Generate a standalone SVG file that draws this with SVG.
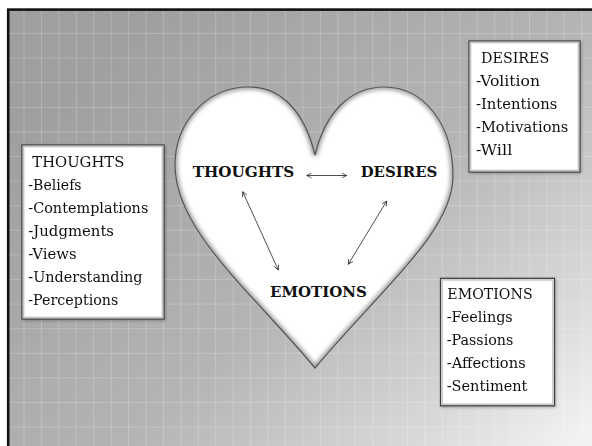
<svg xmlns="http://www.w3.org/2000/svg" width="592" height="446" viewBox="0 0 592 446">
<style>
.t{font-family:"DejaVu Serif","Liberation Serif",serif;font-size:15px;fill:#111}
.b{font-family:"DejaVu Serif","Liberation Serif",serif;font-size:15px;font-weight:bold;fill:#111}
.box{fill:#fff;stroke:#3a3a3a;stroke-width:1.2}
.boxin{fill:none;stroke:#c4c4c4;stroke-width:1.5}
.arr{fill:none;stroke:#222;stroke-width:0.8;marker-start:url(#ah);marker-end:url(#ah)}
</style>
<defs>
<linearGradient id="bg" x1="150" y1="0" x2="570" y2="446" gradientUnits="userSpaceOnUse">
<stop offset="0" stop-color="#9f9f9f"/>
<stop offset="0.5" stop-color="#b4b4b4"/>
<stop offset="0.8" stop-color="#d6d6d6"/>
<stop offset="1" stop-color="#f2f2f2"/>
</linearGradient>
<pattern id="grid" x="23.5" y="33" width="17.43" height="24.6" patternUnits="userSpaceOnUse">
<rect x="0" y="0" width="1" height="24.6" fill="#ffffff" fill-opacity="0.2"/>
<rect x="0" y="0" width="17.43" height="1" fill="#ffffff" fill-opacity="0.2"/>
</pattern>
<clipPath id="hc"><path d="M315 155 C305 113 282 87 249 87 C205 87 175 124 175 165 C175 230 250 290 315 368 C380 290 453 232 453 176 C453 124 424 87 384 87 C350 87 325 113 315 155 Z"/></clipPath>
<filter id="blur" x="-10%" y="-10%" width="120%" height="120%"><feGaussianBlur stdDeviation="2"/></filter>
<filter id="sh" x="-10%" y="-10%" width="130%" height="130%"><feGaussianBlur in="SourceAlpha" stdDeviation="1.5"/><feOffset dx="1" dy="1"/><feComponentTransfer><feFuncA type="linear" slope="0.3"/></feComponentTransfer><feMerge><feMergeNode/><feMergeNode in="SourceGraphic"/></feMerge></filter>
<marker id="ah" viewBox="0 0 10 10" refX="9" refY="5" markerWidth="6" markerHeight="6" markerUnits="userSpaceOnUse" orient="auto-start-reverse">
<path d="M1 1 L9 5 L1 9" fill="none" stroke="#222" stroke-width="1.2"/>
</marker>
</defs>
<rect width="592" height="446" fill="#fff"/>
<rect x="8" y="9.5" width="600" height="450" fill="url(#bg)"/>
<rect x="8" y="9.5" width="600" height="450" fill="url(#grid)"/>
<rect x="8.2" y="9.6" width="600" height="450" fill="none" stroke="#111" stroke-width="2.6"/>

<g id="heart">
<path d="M315 155 C305 113 282 87 249 87 C205 87 175 124 175 165 C175 230 250 290 315 368 C380 290 453 232 453 176 C453 124 424 87 384 87 C350 87 325 113 315 155 Z" fill="#fff"/>
<g clip-path="url(#hc)">
<path d="M315 155 C305 113 282 87 249 87 C205 87 175 124 175 165 C175 230 250 290 315 368 C380 290 453 232 453 176 C453 124 424 87 384 87 C350 87 325 113 315 155 Z" fill="none" stroke="#9a9a9a" stroke-width="5" filter="url(#blur)"/>
</g>
<path d="M315 155 C305 113 282 87 249 87 C205 87 175 124 175 165 C175 230 250 290 315 368 C380 290 453 232 453 176 C453 124 424 87 384 87 C350 87 325 113 315 155 Z" fill="none" stroke="#555" stroke-width="1.2"/>
</g>

<g id="connectors">
<line class="arr" x1="306.7" y1="175.5" x2="346.7" y2="175.5"/>
<line class="arr" x1="242.7" y1="191.7" x2="278.3" y2="270"/>
<line class="arr" x1="386.7" y1="201" x2="348.3" y2="264.3"/>
</g>

<g id="node-thoughts"><text class="b" x="192.7" y="176.7" textLength="101.6" lengthAdjust="spacingAndGlyphs">THOUGHTS</text></g>
<g id="node-desires"><text class="b" x="360.7" y="176.7" textLength="76.6" lengthAdjust="spacingAndGlyphs">DESIRES</text></g>
<g id="node-emotions"><text class="b" x="270" y="297.3" textLength="96.7" lengthAdjust="spacingAndGlyphs">EMOTIONS</text></g>

<g id="box-thoughts" filter="url(#sh)">
<rect class="box" x="22" y="145" width="142" height="174"/>
<rect class="boxin" x="23.6" y="146.6" width="138.8" height="170.8"/>
<text class="t" x="32.3" y="166.6" textLength="92" lengthAdjust="spacingAndGlyphs">THOUGHTS</text>
<text class="t" x="28.3" y="189.6" textLength="53.3" lengthAdjust="spacingAndGlyphs">-Beliefs</text>
<text class="t" x="28.3" y="212.7" textLength="120" lengthAdjust="spacingAndGlyphs">-Contemplations</text>
<text class="t" x="28.3" y="235.8" textLength="85.7" lengthAdjust="spacingAndGlyphs">-Judgments</text>
<text class="t" x="28.3" y="258.9" textLength="48.3" lengthAdjust="spacingAndGlyphs">-Views</text>
<text class="t" x="28.3" y="282" textLength="114.3" lengthAdjust="spacingAndGlyphs">-Understanding</text>
<text class="t" x="28.3" y="305.1" textLength="90" lengthAdjust="spacingAndGlyphs">-Perceptions</text>
</g>

<g id="box-desires" filter="url(#sh)">
<rect class="box" x="469" y="41" width="111" height="131"/>
<rect class="boxin" x="470.6" y="42.6" width="107.8" height="127.8"/>
<text class="t" x="481" y="63.3" textLength="68.3" lengthAdjust="spacingAndGlyphs">DESIRES</text>
<text class="t" x="476" y="86.2" textLength="64" lengthAdjust="spacingAndGlyphs">-Volition</text>
<text class="t" x="476" y="109.1" textLength="81.3" lengthAdjust="spacingAndGlyphs">-Intentions</text>
<text class="t" x="476" y="132" textLength="92.3" lengthAdjust="spacingAndGlyphs">-Motivations</text>
<text class="t" x="476" y="154.9" textLength="36.3" lengthAdjust="spacingAndGlyphs">-Will</text>
</g>

<g id="box-emotions" filter="url(#sh)">
<rect class="box" x="440.5" y="278.3" width="114" height="127.5"/>
<rect class="boxin" x="442.1" y="279.9" width="110.8" height="124.3"/>
<text class="t" x="447.3" y="299.3" textLength="85.3" lengthAdjust="spacingAndGlyphs">EMOTIONS</text>
<text class="t" x="446.7" y="322.2" textLength="66" lengthAdjust="spacingAndGlyphs">-Feelings</text>
<text class="t" x="446.7" y="345" textLength="66.7" lengthAdjust="spacingAndGlyphs">-Passions</text>
<text class="t" x="446.7" y="367.8" textLength="79" lengthAdjust="spacingAndGlyphs">-Affections</text>
<text class="t" x="446.7" y="390.7" textLength="80.7" lengthAdjust="spacingAndGlyphs">-Sentiment</text>
</g>
</svg>
